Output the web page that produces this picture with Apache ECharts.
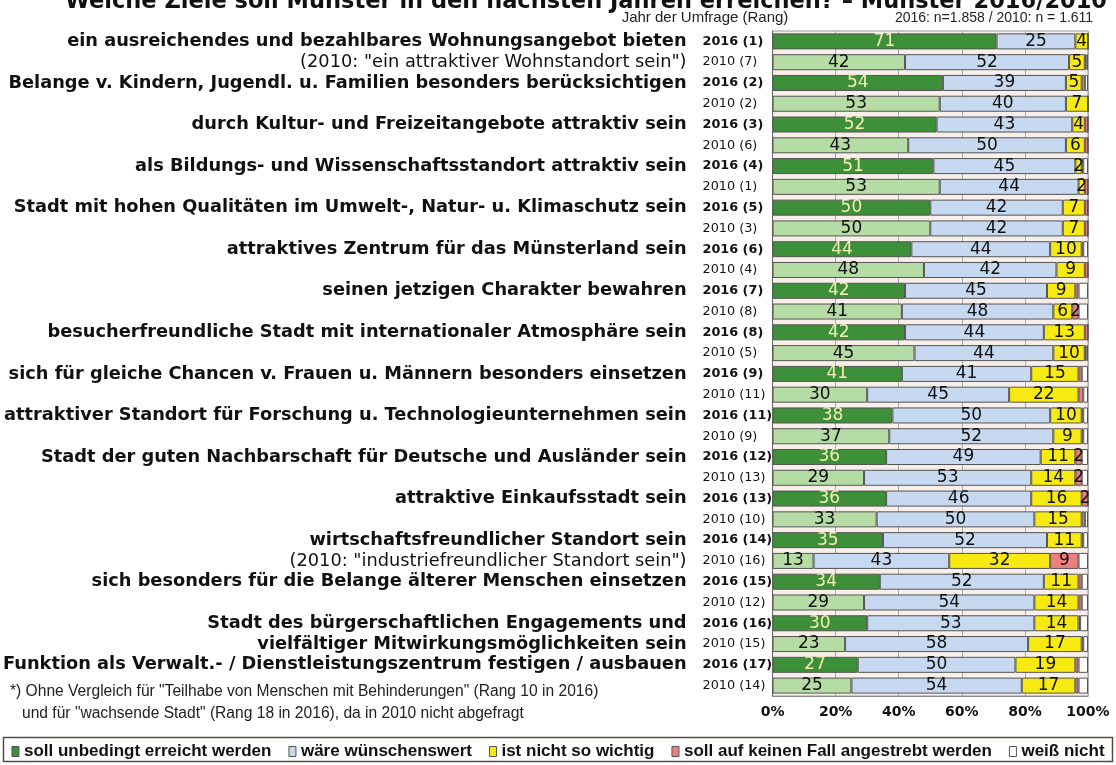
<!DOCTYPE html>
<html><head><meta charset="utf-8">
<script src="https://cdn.jsdelivr.net/npm/echarts@6/dist/echarts.min.js"></script>
<style>html,body{margin:0;padding:0;background:#fff}#c{width:1116px;height:765px}</style>
</head><body><div id="c"></div>
<script>
const yearLabels = ['2016 (1)','2010 (7)','2016 (2)','2010 (2)','2016 (3)','2010 (6)','2016 (4)','2010 (1)','2016 (5)','2010 (3)','2016 (6)','2010 (4)','2016 (7)','2010 (8)','2016 (8)','2010 (5)','2016 (9)','2010 (11)','2016 (11)','2010 (9)','2016 (12)','2010 (13)','2016 (13)','2010 (10)','2016 (14)','2010 (16)','2016 (15)','2010 (12)','2016 (16)','2010 (15)','2016 (17)','2010 (14)'];
const goalLabels = [
 'ein ausreichendes und bezahlbares Wohnungsangebot bieten','(2010: "ein attraktiver Wohnstandort sein")',
 'Belange v. Kindern, Jugendl. u. Familien besonders berücksichtigen','',
 'durch Kultur- und Freizeitangebote attraktiv sein','',
 'als Bildungs- und Wissenschaftsstandort attraktiv sein','',
 'Stadt mit hohen Qualitäten im Umwelt-, Natur- u. Klimaschutz sein','',
 'attraktives Zentrum für das Münsterland sein','',
 'seinen jetzigen Charakter bewahren','',
 'besucherfreundliche Stadt mit internationaler Atmosphäre sein','',
 'sich für gleiche Chancen v. Frauen u. Männern besonders einsetzen','',
 'attraktiver Standort für Forschung u. Technologieunternehmen sein','',
 'Stadt der guten Nachbarschaft für Deutsche und Ausländer sein','',
 'attraktive Einkaufsstadt sein','',
 'wirtschaftsfreundlicher Standort sein','(2010: "industriefreundlicher Standort sein")',
 'sich besonders für die Belange älterer Menschen einsetzen','',
 'Stadt des bürgerschaftlichen Engagements und','vielfältiger Mitwirkungsmöglichkeiten sein',
 'Funktion als Verwalt.- / Dienstleistungszentrum festigen / ausbauen',''
];
const goalBold = [1,0,1,0,1,0,1,0,1,0,1,0,1,0,1,0,1,0,1,0,1,0,1,0,1,0,1,0,1,1,1,0];
const seriesNames = ['soll unbedingt erreicht werden','wäre wünschenswert','ist nicht so wichtig','soll auf keinen Fall angestrebt werden','weiß nicht'];
const unbedingt      = [71,42,54,53,52,43,51,53,50,50,44,48,42,41,42,45,41,30,38,37,36,29,36,33,35,13,34,29,30,23,27,25];
const wuenschenswert = [25,52,39,40,43,50,45,44,42,42,44,42,45,48,44,44,41,45,50,52,49,53,46,50,52,43,52,54,53,58,50,54];
const nichtWichtig   = [4,5,5,7,4,6,2,2,7,7,10,9,9,6,13,10,15,22,10,9,11,14,16,15,11,32,11,14,14,17,19,17];
const keinenFall     = [0,0.5,1,0,1,1,0.5,1,1,1,0.5,1,1,2,1,0.5,1,1.5,0.5,0.5,2,2,2,1,0.5,9,1,1,0.5,0.5,1,1];
const weissNicht     = [0,0.5,1,0,0,0,1.5,0,0,0,1.5,0,3,3,0,0.5,2,1.5,1.5,1.5,2,2,0,1,1.5,3,2,2,2.5,1.5,3,3];
const xTicks = ['0%','20%','40%','60%','80%','100%'];

const is2016 = i => yearLabels[i].indexOf('2016') === 0;
const chart = echarts.init(document.getElementById('c'));
const F = 'DejaVu Sans';
const NARROW = '"Liberation Sans Narrow","Liberation Sans",sans-serif';
const border = {borderColor:'#555', borderWidth:1};
const lblBase = {show:true, position:'inside', fontFamily:F, fontSize:17, color:'#111'};
const fmt = p => Math.round(p.value);
const fmtMin2 = p => p.value >= 2 ? Math.round(p.value) : '';

const series = [
 {name:seriesNames[0], data: unbedingt.map((v,i)=>({value:v,
    itemStyle:{color: is2016(i)?'#3d8f3a':'#b4dca4'},
    label:{color: is2016(i)?'#f3f0b4':'#111'}})),
  itemStyle:Object.assign({color:'#3d8f3a'},border), label:Object.assign({},lblBase,{formatter:fmt})},
 {name:seriesNames[1], data: wuenschenswert, itemStyle:Object.assign({color:'#c6d9f0'},border), label:Object.assign({},lblBase,{formatter:fmt})},
 {name:seriesNames[2], data: nichtWichtig, itemStyle:Object.assign({color:'#f7ea10'},border), label:Object.assign({},lblBase,{formatter:fmtMin2})},
 {name:seriesNames[3], data: keinenFall, itemStyle:Object.assign({color:'#ef7f7f'},border), label:Object.assign({},lblBase,{formatter:fmtMin2})},
 {name:seriesNames[4], data: weissNicht, itemStyle:Object.assign({color:'#ffffff'},border), label:{show:false}}
].map(s => Object.assign({type:'bar', stack:'all', barCategoryGap:'23%', emphasis:{disabled:true}, xAxisIndex:0, yAxisIndex:0}, s));

const option = {
 animation:false,
 grid:{left:772, right:28, top:31, bottom:69, show:true, backgroundColor:'#f8efeb', borderColor:'#999', borderWidth:1},
 xAxis:{type:'value', min:0, max:100, interval:20,
   axisLabel:{formatter:v=>xTicks[v/20], fontFamily:F, fontWeight:'bold', fontSize:14, color:'#111', margin:9},
   axisLine:{show:true, lineStyle:{color:'#888'}}, axisTick:{show:false},
   splitLine:{show:true, lineStyle:{color:'#aaa', width:1}}},
 yAxis:[
  {type:'category', inverse:true, position:'left',
   data: yearLabels.map((l,i)=>({value:l, textStyle:{align:'left', fontFamily:F, fontSize:12.8, color:'#111', fontWeight: is2016(i)?'bold':'normal'}})),
   axisLabel:{align:'left', margin:70, fontFamily:F, fontSize:12.8, color:'#111', interval:0},
   axisLine:{show:true, lineStyle:{color:'#666'}}, axisTick:{show:false}},
  {type:'category', inverse:true, position:'left', offset:0,
   data: goalLabels.map((l,i)=>({value: l || (' '.repeat(i+1)), textStyle:{align:'right', fontFamily:F, fontSize:17.8, color:'#111', fontWeight: goalBold[i]?'bold':'normal'}})),
   axisLabel:{align:'right', margin:86, fontFamily:F, fontSize:17.8, color:'#111', interval:0},
   axisLine:{show:false}, axisTick:{show:false}, splitLine:{show:false}}
 ],
 legend:{left:'center', bottom:5, width:1116, padding:0, itemWidth:7, itemHeight:10, itemGap:17,
   textStyle:{fontFamily:NARROW, fontWeight:'bold', fontSize:17, color:'#111'},
   itemStyle:{borderColor:'#555', borderWidth:1},
   data: seriesNames.map((n,i)=>({name:n, icon:'rect', itemStyle:{color:['#3d8f3a','#c6d9f0','#f7ea10','#ef7f7f','#ffffff'][i]}}))},
 graphic:[
  {type:'text', style:{x:586, y:14, text:'Welche Ziele soll Münster in den nächsten Jahren erreichen? – Münster 2016/2010', align:'center', verticalAlign:'bottom', font:'bold 22.5px "DejaVu Sans"', fill:'#111'}},
  {type:'text', style:{x:705, y:18, text:'Jahr der Umfrage (Rang)', align:'center', verticalAlign:'middle', font:'15px '+NARROW, fill:'#222'}},
  {type:'text', style:{x:994, y:18, text:'2016: n=1.858 / 2010: n = 1.611', align:'center', verticalAlign:'middle', font:'14px '+NARROW, fill:'#222'}},
  {type:'text', style:{x:10, y:692, text:'*) Ohne Vergleich für "Teilhabe von Menschen mit Behinderungen" (Rang 10 in 2016)', verticalAlign:'middle', font:'15.6px '+NARROW, fill:'#222'}},
  {type:'text', style:{x:22, y:714, text:'und für "wachsende Stadt" (Rang 18 in 2016), da in 2010 nicht abgefragt', verticalAlign:'middle', font:'15.6px '+NARROW, fill:'#222'}},
  {type:'rect', shape:{x:3.5, y:737.5, width:1109, height:24}, style:{fill:'none', stroke:'#5a4a40', lineWidth:1.5}}
 ],
 series
};
chart.setOption(option);
</script></body></html>
